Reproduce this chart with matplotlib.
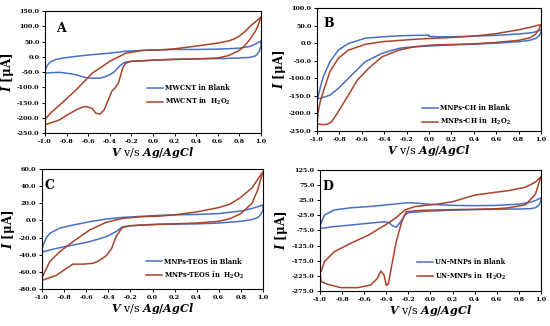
import matplotlib
matplotlib.use("Agg")
import matplotlib.pyplot as plt
from matplotlib.ticker import FormatStrFormatter, MultipleLocator

plt.rcParams['font.family'] = ['DejaVu Serif']
plt.rcParams['mathtext.fontset'] = 'custom'
plt.rcParams['mathtext.rm'] = 'DejaVu Serif:bold'
plt.rcParams['mathtext.it'] = 'DejaVu Serif:italic:bold'
plt.rcParams['mathtext.bf'] = 'DejaVu Serif:bold'

BLUE = '#4670C6'
RED = '#A8432A'

# ---------- Panel A: MWCNT ----------
a_blank_x = [-1.0, -0.99, -0.97, -0.94, -0.9, -0.83, -0.71, -0.56, -0.4, -0.25, -0.09, 0.09, 0.2, 0.4, 0.6, 0.8, 0.9, 0.95, 1.0,
             1.0, 0.98, 0.95, 0.9, 0.8, 0.6, 0.4, 0.2, 0.09, -0.09, -0.2, -0.25, -0.28, -0.31, -0.36, -0.4, -0.45, -0.49, -0.59, -0.65, -0.71, -0.8, -0.86, -0.93, -0.99, -1.0]
a_blank_y = [-45, -36, -24, -15, -9, -4, 1.5, 7, 12, 18, 21, 23, 24, 24, 25, 28, 34, 42, 52,
             35, 15, 3, -2, -4, -6, -7, -8, -9.5, -13, -15, -17, -22, -31, -50, -59, -66, -70, -70, -66, -59, -54, -51, -52, -53, -45]
a_h2o2_x = [-1.0, -0.95, -0.86, -0.71, -0.56, -0.4, -0.3, -0.25, -0.09, 0.09, 0.2, 0.4, 0.6, 0.7, 0.75, 0.8, 0.85, 0.9, 0.95, 1.0,
            1.0, 0.97, 0.95, 0.9, 0.85, 0.8, 0.7, 0.6, 0.4, 0.2, 0.0, -0.09, -0.2, -0.23, -0.26, -0.28, -0.32, -0.35, -0.38, -0.4, -0.43, -0.45, -0.49, -0.53, -0.56, -0.62, -0.66, -0.71, -0.8, -0.86, -0.93, -1.0, -1.0]
a_h2o2_y = [-206, -185, -157, -108, -53, -15, 3, 12, 21, 23, 26, 35, 45, 52, 58, 68, 82, 100, 115, 130,
            130, 100, 85, 58, 37, 21, 4, -4, -7, -9, -11, -13, -15, -17, -24, -37, -86, -102, -112, -130, -155, -173, -188, -185, -170, -163, -166, -174, -192, -206, -215, -223, -206]

# ---------- Panel B: MNPs-CH ----------
b_blank_x = [-1.0, -0.99, -0.97, -0.944, -0.885, -0.81, -0.72, -0.57, -0.42, -0.25, -0.125, 0.0, 0.0, 0.1, 0.2, 0.4, 0.6, 0.8, 0.9, 0.95, 1.0,
             1.0, 0.98, 0.95, 0.9, 0.8, 0.6, 0.4, 0.2, 0.0, -0.2, -0.27, -0.42, -0.57, -0.72, -0.81, -0.885, -0.97, -1.0]
b_blank_y = [-158, -152, -125, -96, -53, -20, -1, 14, 18, 21, 22, 23, 19, 18, 18, 20, 22, 26, 29, 32, 38,
             30, 20, 13, 8, 4, 0, -3, -5, -8, -12, -15, -29, -53, -100, -129, -148, -157, -158]
b_h2o2_x = [-1.0, -0.99, -0.97, -0.944, -0.885, -0.81, -0.72, -0.57, -0.42, -0.125, 0.05, 0.2, 0.4, 0.6, 0.8, 0.9, 1.0,
            1.0, 0.98, 0.95, 0.9, 0.8, 0.6, 0.4, 0.2, 0.05, -0.125, -0.27, -0.42, -0.54, -0.64, -0.72, -0.81, -0.87, -0.91, -0.95, -0.99, -1.0]
b_h2o2_y = [-232, -195, -165, -138, -81, -43, -20, -3.5, 4, 11, 14, 16, 20, 27, 38, 45, 53,
            53, 38, 25, 15, 8, 2, -2, -4, -5, -10, -20, -39, -72, -105, -148, -195, -224, -231, -232, -230, -232]

# ---------- Panel C: MNPs-TEOS ----------
c_blank_x = [-1.0, -0.99, -0.96, -0.93, -0.84, -0.72, -0.57, -0.42, -0.27, -0.11, 0.07, 0.2, 0.4, 0.6, 0.8, 0.9, 1.0,
             1.0, 0.98, 0.95, 0.9, 0.8, 0.6, 0.4, 0.2, 0.07, -0.11, -0.27, -0.33, -0.42, -0.57, -0.72, -0.87, -0.99, -1.0]
c_blank_y = [-34, -29, -20, -15, -9, -5.4, -1.5, 1.6, 3.6, 4.7, 6, 6.5, 7, 8, 11, 14, 18,
             12, 7, 3, 1, -1, -3, -4, -4.2, -4.2, -5.4, -7.3, -13, -19, -24.8, -28.7, -32.6, -36.5, -37]
c_h2o2_x = [-1.0, -0.99, -0.93, -0.84, -0.72, -0.57, -0.42, -0.27, -0.11, 0.07, 0.2, 0.4, 0.6, 0.7, 0.8, 0.9, 1.0,
            1.0, 0.95, 0.9, 0.8, 0.7, 0.6, 0.4, 0.2, 0.07, -0.2, -0.25, -0.28, -0.33, -0.37, -0.41, -0.45, -0.5, -0.54, -0.63, -0.72, -0.78, -0.87, -0.99, -1.0]
c_h2o2_y = [-67, -64, -48, -36.5, -24.8, -11.2, -2.2, 2.4, 4.3, 5.1, 6.5, 10, 15, 19, 27, 38, 57,
            57, 35, 20, 8, 2, -1, -3, -4, -4.6, -6, -7.5, -9.2, -19, -32.6, -40, -44, -48, -50, -51, -51, -56, -64, -69.5, -70]

# ---------- Panel D: UN-MNPs ----------
d_blank_x = [-1.0, -0.99, -0.96, -0.87, -0.72, -0.56, -0.41, -0.32, -0.2, -0.11, -0.02, 0.2, 0.4, 0.6, 0.8, 0.9, 0.95, 1.0,
             1.0, 0.98, 0.95, 0.9, 0.8, 0.6, 0.4, 0.2, -0.02, -0.2, -0.23, -0.28, -0.31, -0.34, -0.37, -0.41, -0.56, -0.72, -0.87, -0.99, -1.0]
d_blank_y = [-60, -51, -24, -7, 0, 4, 9, 12.6, 17, 15, 11.6, 8, 7, 8, 12, 18, 24, 33,
             22, 8, 0, -3, -4, -5, -6, -8, -11, -16, -24, -51, -64, -60, -51, -46, -51, -57, -62, -68, -68]
d_h2o2_x = [-1.0, -0.99, -0.96, -0.87, -0.72, -0.56, -0.41, -0.32, -0.23, -0.14, -0.02, 0.07, 0.2, 0.4, 0.56, 0.71, 0.86, 0.95, 1.0,
            1.0, 0.98, 0.95, 0.86, 0.71, 0.6, 0.4, 0.2, 0.07, -0.11, -0.22, -0.26, -0.31, -0.35, -0.38, -0.4, -0.42, -0.45, -0.48, -0.54, -0.66, -0.81, -0.93, -0.99, -1.0]
d_h2o2_y = [-215, -211, -178, -145, -117, -90, -57, -35, -7, 4, 9, 12.6, 20, 42, 50, 57, 68, 85, 103,
            103, 80, 45, 10, 0, -3, -5, -6, -7, -9, -13, -46, -112, -189, -250, -257, -222, -209, -233, -255, -264, -264, -253, -244, -215]

panels = [
    dict(key='A', rect=[0.0818, 0.592, 0.3927, 0.3742], ylim=(-250, 150), ystep=50,
         blank=(a_blank_x, a_blank_y), h2o2=(a_h2o2_x, a_h2o2_y), name='MWCNT',
         leg=(0.47, 0.40), letter=(0.05, 0.91)),
    dict(key='B', rect=[0.5764, 0.5982, 0.4073, 0.3773], ylim=(-250, 100), ystep=50,
         blank=(b_blank_x, b_blank_y), h2o2=(b_h2o2_x, b_h2o2_y), name='MNPs-CH',
         leg=(0.47, 0.22), letter=(0.03, 0.93)),
    dict(key='C', rect=[0.0764, 0.1135, 0.4018, 0.368], ylim=(-80, 60), ystep=20,
         blank=(c_blank_x, c_blank_y), h2o2=(c_h2o2_x, c_h2o2_y), name='MNPs-TEOS',
         leg=(0.47, 0.26), letter=(0.01, 0.92)),
    dict(key='D', rect=[0.5818, 0.1074, 0.4018, 0.3712], ylim=(-275, 125), ystep=50,
         blank=(d_blank_x, d_blank_y), h2o2=(d_h2o2_x, d_h2o2_y), name='UN-MNPs',
         leg=(0.44, 0.27), letter=(0.01, 0.92)),
]

fig = plt.figure(figsize=(5.5, 3.26), dpi=100)

for p in panels:
    ax = fig.add_axes(p['rect'])
    ax.plot(p['blank'][0], p['blank'][1], color=BLUE, lw=1.1, label=p['name'] + ' in Blank',
            solid_joinstyle='round')
    ax.plot(p['h2o2'][0], p['h2o2'][1], color=RED, lw=1.1,
            label=p['name'] + r' in  H$_2$O$_2$', solid_joinstyle='round')
    ax.set_xlim(-1.0, 1.0)
    ax.set_ylim(*p['ylim'])
    ax.xaxis.set_major_locator(MultipleLocator(0.2))
    ax.yaxis.set_major_locator(MultipleLocator(p['ystep']))
    if p['key'] == 'D':
        ax.set_yticks(list(range(-275, 126, 50)))
    ax.xaxis.set_major_formatter(FormatStrFormatter('%.1f'))
    ax.yaxis.set_major_formatter(FormatStrFormatter('%.1f'))
    ax.tick_params(direction='out', length=2.5, width=0.7, labelsize=4.6, pad=1.5)
    for lab in ax.get_xticklabels() + ax.get_yticklabels():
        lab.set_fontweight('bold')
    for s in ax.spines.values():
        s.set_linewidth(0.8)
    ax.set_xlabel(r'$V$ v/s $Ag/AgCl$', fontsize=8, labelpad=1)
    ax.set_ylabel(r'$I$ [μA]', fontsize=8.5, fontweight='bold', labelpad=1)
    ax.text(p['letter'][0], p['letter'][1], p['key'], transform=ax.transAxes,
            fontsize=9, fontweight='bold', va='top', ha='left')
    ax.legend(loc='upper left', bbox_to_anchor=p['leg'], frameon=False,
              prop={'size': 4.8, 'weight': 'bold'}, handlelength=2.4,
              handletextpad=0.3, borderpad=0, borderaxespad=0, labelspacing=0.6)

fig.savefig('out.png', dpi=100)
